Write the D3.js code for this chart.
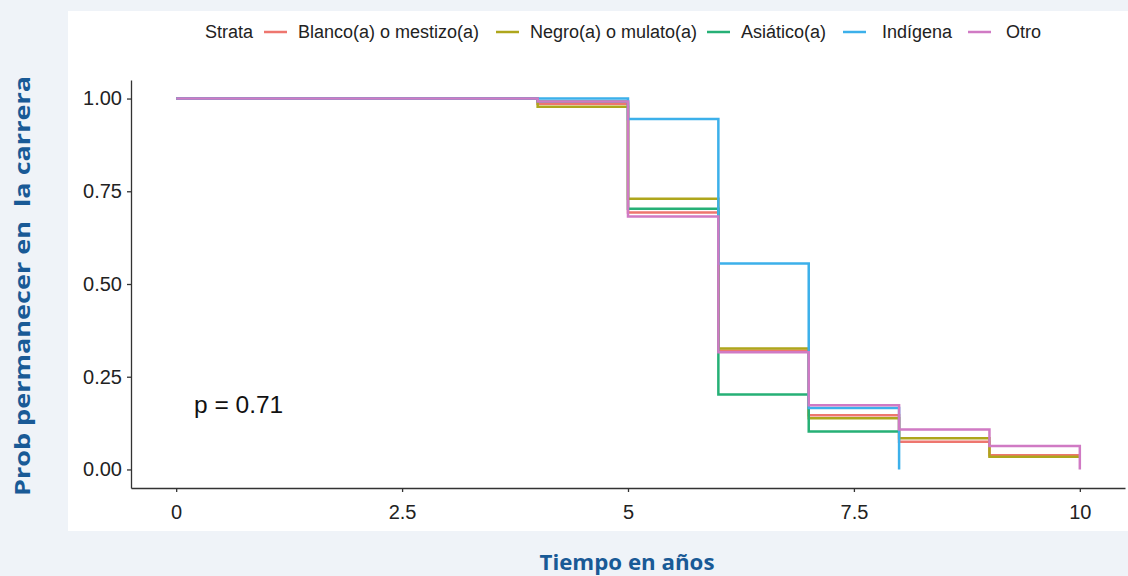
<!doctype html>
<html>
<head>
<meta charset="utf-8">
<script src="https://d3js.org/d3.v7.min.js"></script>
<style>
body {margin:0; background:#eff3f8;}
svg text {font-family: "Liberation Sans", Arial, sans-serif;}
</style>
</head>
<body>
<svg id="chart" width="1128" height="576"></svg>
<script>
// strata names and colours
var strata = ["Blanco(a) o mestizo(a)", "Negro(a) o mulato(a)", "Asiático(a)", "Indígena", "Otro"];
var colors = ["#ee766f", "#aea61c", "#26b076", "#3cb0ea", "#d07ac4"];

// Kaplan-Meier steps, [time, survival]
var blanco   = [[0,1],[4,0.986],[5,0.693],[6,0.320],[7,0.146],[8,0.075],[9,0.038],[10,0.038]];
var negro    = [[0,1],[4,0.978],[5,0.730],[6,0.326],[7,0.138],[8,0.084],[9,0.034],[10,0.034]];
var asiatico = [[0,1],[4,0.992],[5,0.703],[6,0.202],[7,0.102],[8,0.102]];
var indigena = [[0,1],[5,0.945],[6,0.555],[7,0.166],[8,0]];
var otro     = [[0,1],[4,0.992],[5,0.682],[6,0.316],[7,0.173],[8,0.108],[9,0.063],[10,0]];
var series = [blanco, negro, asiatico, indigena, otro];

var xTicks = [0, 2.5, 5, 7.5, 10];
var yTicks = [0, 0.25, 0.5, 0.75, 1];

var svg = d3.select("#chart");

// white panel
svg.append("rect").attr("x", 68).attr("y", 11).attr("width", 1060).attr("height", 520).attr("fill", "#fff");

var x = d3.scaleLinear().domain([-0.5, 10.5]).range([131, 1125]);
var y = d3.scaleLinear().domain([-0.05, 1.05]).range([488, 80]);

var xAxis = svg.append("g").attr("transform", "translate(0,488)")
  .call(d3.axisBottom(x).tickValues(xTicks).tickFormat(d3.format("")).tickSize(4).tickPadding(13).tickSizeOuter(0));
var yAxis = svg.append("g").attr("transform", "translate(131,0)")
  .call(d3.axisLeft(y).tickValues(yTicks).tickFormat(d3.format(".2f")).tickSize(4).tickPadding(5).tickSizeOuter(0));

[xAxis, yAxis].forEach(function(a) {
  a.select(".domain").attr("stroke", "#333").attr("stroke-width", 1.3);
  a.selectAll(".tick line").attr("stroke", "#333").attr("stroke-width", 1.3);
  a.selectAll(".tick text").attr("fill", "#222").style("font-size", "20px");
});

var line = d3.line().x(function(d) { return x(d[0]); }).y(function(d) { return y(d[1]); }).curve(d3.curveStepAfter);

svg.append("g").selectAll("path")
  .data(series)
  .enter().append("path")
  .attr("d", line)
  .attr("fill", "none")
  .attr("stroke", function(d, i) { return colors[i]; })
  .attr("stroke-width", 2.5);

// p value
svg.append("text").attr("x", 194).attr("y", 413).style("font-size", "24.5px").attr("fill", "#111").text("p = 0.71");

var keyX = [264, 496, 707, 843, 968];
var labelX = [298, 530, 741, 882, 1006];
var lg = svg.append("g").attr("transform", "translate(0,38)");
lg.append("text").attr("x", 205).attr("y", 0).style("font-size", "18px").attr("fill", "#222").text("Strata");
strata.forEach(function(s, i) {
  lg.append("line").attr("x1", keyX[i]).attr("x2", keyX[i] + 23).attr("y1", -6).attr("y2", -6)
    .attr("stroke", colors[i]).attr("stroke-width", 2.5);
  lg.append("text").attr("x", labelX[i]).attr("y", 0).style("font-size", "18px").attr("fill", "#222").text(s);
});

// axis titles
svg.append("text")
  .attr("transform", "translate(30,286) rotate(-90)")
  .attr("text-anchor", "middle")
  .style("font-family", "'Open Sans', sans-serif").style("font-weight", "bold").style("font-size", "22px")
  .style("white-space", "pre")
  .attr("textLength", 420).attr("lengthAdjust", "spacingAndGlyphs")
  .attr("fill", "#195a96")
  .text("Prob permanecer en  la carrera");

svg.append("text")
  .attr("x", 627).attr("y", 570)
  .attr("text-anchor", "middle")
  .style("font-family", "'Open Sans', sans-serif").style("font-weight", "bold").style("font-size", "22px")
  .attr("textLength", 175).attr("lengthAdjust", "spacingAndGlyphs")
  .attr("fill", "#195a96")
  .text("Tiempo en años");
</script>
</body>
</html>
